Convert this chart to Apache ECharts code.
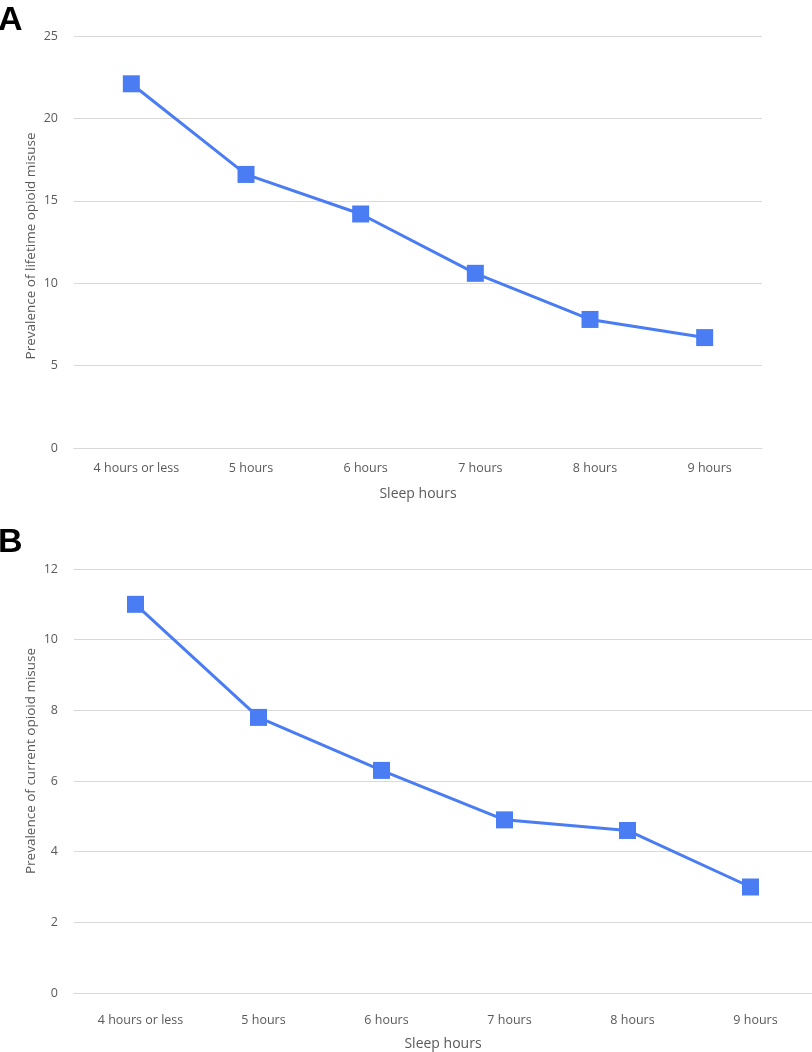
<!DOCTYPE html>
<html><head><meta charset="utf-8">
<script src="https://cdn.jsdelivr.net/npm/echarts@6/dist/echarts.min.js"></script>
<style>html,body{margin:0;padding:0;background:#fff}#c{width:812px;height:1052px}</style>
</head><body><div id="c"></div>
<script>
const categories = ['4 hours or less', '5 hours', '6 hours', '7 hours', '8 hours', '9 hours'];
const lifetimeMisuse = [22.1, 16.6, 14.2, 10.6, 7.8, 6.7];
const currentMisuse = [11.0, 7.8, 6.3, 4.9, 4.6, 3.0];
const xTitle = 'Sleep hours';
const yTitleA = 'Prevalence of lifetime opioid misuse';
const yTitleB = 'Prevalence of current opioid misuse';

const font = 'Open Sans, Noto Sans, sans-serif';
const txt = '#595959';
const gridCol = '#d9d9d9';
const lineCol = '#4a7cf4';

function xAxis(gi, labelMargin, nameGap) {
  return {
    type: 'category', gridIndex: gi, data: categories, boundaryGap: true,
    axisLine: {lineStyle: {color: gridCol, width: 1}}, axisTick: {show: false},
    axisLabel: {color: txt, fontFamily: font, fontSize: 12.5, margin: labelMargin, padding: [0, 0, 0, 10]},
    name: xTitle, nameLocation: 'middle', nameGap: nameGap, nameMoveOverlap: false,
    nameTextStyle: {color: txt, fontFamily: font, fontSize: 14}
  };
}
function yAxis(gi, max, interval, name, pad) {
  return {
    type: 'value', gridIndex: gi, min: 0, max: max, interval: interval,
    axisLine: {show: false}, axisTick: {show: false},
    splitLine: {lineStyle: {color: gridCol, width: 1}},
    axisLabel: {color: txt, fontFamily: font, fontSize: 12.5, margin: 16},
    name: name, nameLocation: 'middle', nameGap: 36, nameRotate: 90, nameMoveOverlap: false,
    nameTextStyle: {color: txt, fontFamily: font, fontSize: 13.5, padding: pad}
  };
}
function series(i, data) {
  return {
    type: 'line', xAxisIndex: i, yAxisIndex: i, data: data,
    symbol: 'rect', symbolSize: 17, showSymbol: true,
    lineStyle: {color: lineCol, width: 3},
    itemStyle: {color: lineCol}, animation: false
  };
}
const chart = echarts.init(document.getElementById('c'), null, {renderer: 'canvas'});
chart.setOption({
  backgroundColor: '#fff',
  animation: false,
  title: [
    {text: 'A', left: -2, top: 4, padding: 0, textStyle: {fontFamily: 'Liberation Sans, Arial, sans-serif', fontWeight: 'bold', fontSize: 34, color: '#000'}},
    {text: 'B', left: -2, top: 526, padding: 0, textStyle: {fontFamily: 'Liberation Sans, Arial, sans-serif', fontWeight: 'bold', fontSize: 34, color: '#000'}}
  ],
  grid: [
    {left: 74, top: 36, width: 688, height: 412, containLabel: false},
    {left: 74, top: 569, width: 738, height: 431, containLabel: false}
  ],
  xAxis: [xAxis(0, 14, 39), xAxis(1, 21, 44)],
  yAxis: [yAxis(0, 25, 5, yTitleA, [0, 8, 0, 0]), yAxis(1, 12, 2, yTitleB, [0, 0, 0, 40])],
  series: [series(0, lifetimeMisuse), series(1, currentMisuse)]
});
</script></body></html>
